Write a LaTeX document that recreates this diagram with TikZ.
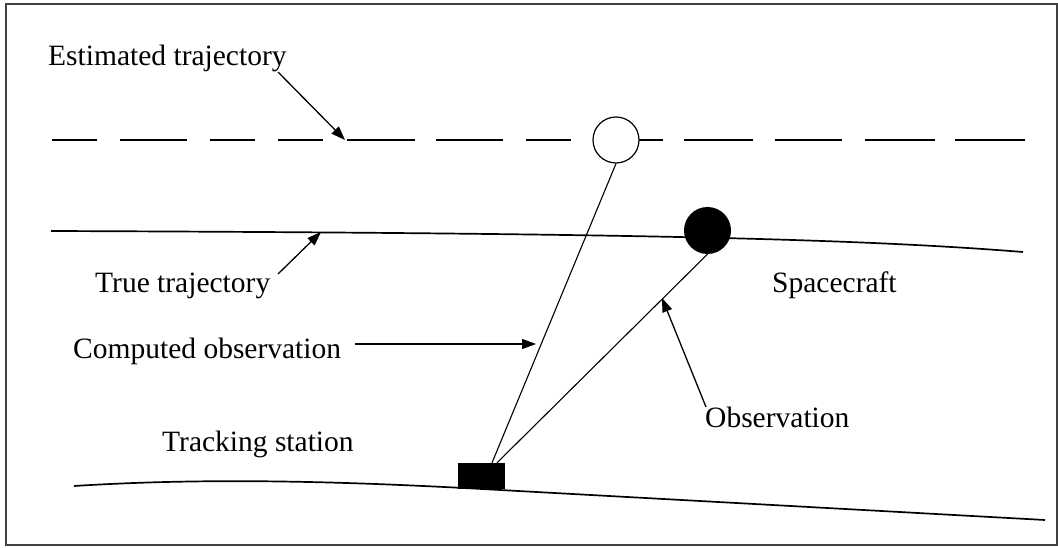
\documentclass[tikz,border=0pt]{standalone}
\usepackage{fontspec}
\setmainfont{Liberation Serif}
\usetikzlibrary{arrows.meta,calc}
\begin{document}
\begin{tikzpicture}[x=1pt,y=-1pt,
  lbl/.style={anchor=base west,inner sep=0pt,font=\fontsize{29.5}{32}\selectfont},
  traj/.style={line width=1.7pt},
  conn/.style={line width=1.1pt},
  ptr/.style={line width=1.3pt,-{Triangle[length=14pt,width=10pt]}},
]
\useasboundingbox (0,0) rectangle (1058,548);
\draw[line width=1.5pt,black!75] (6,4) rectangle (1057,545);

% estimated trajectory (dashed)
\foreach \a/\b in {52/97,120/187,210/255,278/323,347/415,436/503,526/571,594/663,684/753,775/842,865/935,955/1025}
  \draw[traj] (\a,140) -- (\b,140);

% true trajectory
\draw[traj] (51,231) .. controls (600,233) and (850,238) .. (1023,252);

% ground
\draw[traj] (74,486) .. controls (200,478) and (330,480.6) .. (482,489) -- (1045,520);

% bodies
\node[circle,draw,fill=white,line width=1.2pt,minimum size=46pt,inner sep=0pt] (open) at (616,140) {};
\node[circle,fill=black,minimum size=47pt,inner sep=0pt] (sc) at (707.5,230.5) {};
\node[fill=black,minimum width=47pt,minimum height=26pt,inner sep=0pt] (box) at (481.5,476) {};

% observation lines
\coordinate (compEnd) at ($(box.north)+(10.5,0)$);
\coordinate (obsEnd) at ($(box.north)+(15.5,0)$);
\draw[conn] (open.south) -- (compEnd);
\draw[conn] (sc.south) -- (obsEnd);

% labels
\node[lbl] (est) at (48,66) {Estimated trajectory};
\node[lbl] (true) at (95,293) {True trajectory};
\node[lbl] (comp) at (73,358) {Computed observation};
\node[lbl] (track) at (162,451) {Tracking station};
\node[lbl] (spc) at (772,292) {Spacecraft};
\node[lbl] (obs) at (705,427) {Observation};

% pointers
\coordinate (estTail) at (278,72);  \coordinate (estTip) at (345,140);
\coordinate (trueTail) at (278,274); \coordinate (trueTip) at (321,232);
\coordinate (compTail) at (355,344); \coordinate (compTip) at (536,344);
\coordinate (obsTail) at (706,407);  \coordinate (obsTip) at (662,298);
\draw[ptr] (estTail) -- (estTip);
\draw[ptr] (trueTail) -- (trueTip);
\draw[ptr] (compTail) -- (compTip);
\draw[ptr] (obsTail) -- (obsTip);
\end{tikzpicture}
\end{document}
